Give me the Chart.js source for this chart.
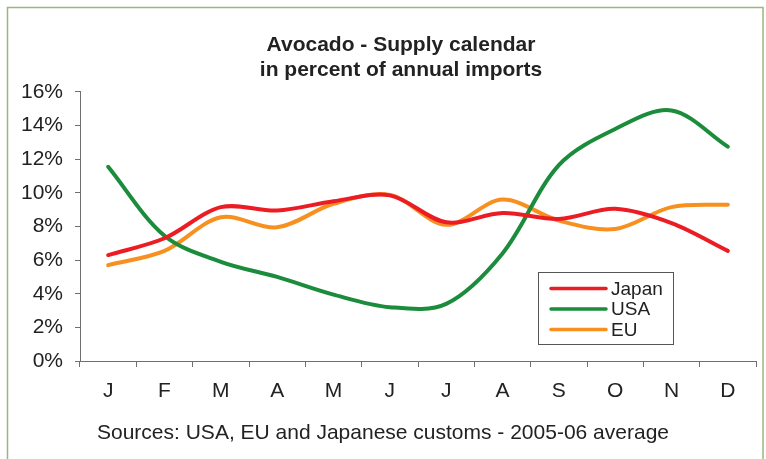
<!DOCTYPE html>
<html>
<head>
<meta charset="utf-8">
<script src="https://cdn.jsdelivr.net/npm/chart.js@4"></script>
<style>
    html, body { margin: 0; padding: 0; background: #ffffff; }
    canvas { display: block; }
</style>
</head>
<body>
<canvas id="supplyChart" width="766" height="459"></canvas>
<script>
// Data (percent of annual imports per month)
const months = ['J', 'F', 'M', 'A', 'M', 'J', 'J', 'A', 'S', 'O', 'N', 'D'];
const japan = [6.3, 7.3, 9.15, 8.95, 9.5, 9.85, 8.25, 8.8, 8.45, 9.05, 8.2, 6.55];
const usa = [11.55, 7.45, 5.9, 5.0, 3.95, 3.2, 3.4, 6.4, 11.65, 13.8, 14.9, 12.75];
const eu = [5.7, 6.55, 8.55, 7.95, 9.35, 9.88, 8.1, 9.6, 8.35, 7.85, 9.15, 9.3];
const yTicks = [0, 2, 4, 6, 8, 10, 12, 14, 16];
const sourceText = 'Sources: USA, EU and Japanese customs - 2005-06 average';

const FONT = "'Liberation Sans', Arial, sans-serif";
const axisColor = '#6f6f6f';

// Green frame round the picture, the source line and the legend box
const extras = {
    id: 'extras',
    afterLayout(chart) {
        // title sits a bit right of the canvas centre in the reference
        chart.titleBlock.left = 36;
        chart.titleBlock.right = 766;
    },
    beforeDraw(chart) {
        const ctx = chart.ctx;
        ctx.save();
        ctx.fillStyle = '#ffffff';
        ctx.fillRect(0, 0, chart.width, chart.height);
        ctx.strokeStyle = '#9db57c';
        ctx.lineWidth = 1.5;
        ctx.strokeRect(7.5, 7.5, 755.5, 480);
        ctx.restore();
    },
    afterDraw(chart) {
        const ctx = chart.ctx;
        ctx.save();
        // source line
        ctx.fillStyle = '#222222';
        ctx.font = '21px ' + FONT;
        ctx.textAlign = 'left';
        ctx.textBaseline = 'middle';
        ctx.fillText(sourceText, 97, 433);

        // legend
        ctx.strokeStyle = '#555555';
        ctx.lineWidth = 1;
        ctx.strokeRect(538.5, 272.5, 135, 72);
        ctx.font = '19px ' + FONT;
        chart.data.datasets.forEach((ds, i) => {
            const y = 288.5 + i * 20.5;
            ctx.strokeStyle = ds.borderColor;
            ctx.lineWidth = 3.5;
            ctx.lineCap = 'round';
            ctx.beginPath();
            ctx.moveTo(551, y);
            ctx.lineTo(606, y);
            ctx.stroke();
            ctx.fillStyle = '#222222';
            ctx.fillText(ds.label, 611, y + 1);
        });
        ctx.restore();
    }
};

const ctx = document.getElementById('supplyChart').getContext('2d');
const supplyChart = new Chart(ctx, {
    type: 'line',
    data: {
        labels: months,
        datasets: [{
            label: 'Japan',
            data: japan,
            borderColor: '#ec1c24'
        }, {
            label: 'USA',
            data: usa,
            borderColor: '#1a8c3c'
        }, {
            label: 'EU',
            data: eu,
            borderColor: '#f7901e'
        }]
    },
    options: {
        responsive: false,
        animation: false,
        devicePixelRatio: 1,
        layout: {
            padding: { left: 12, right: 10, top: 0, bottom: 0 }
        },
        elements: {
            line: { borderWidth: 4, tension: 0.33, fill: false, borderCapStyle: 'round' },
            point: { radius: 0, hoverRadius: 0 }
        },
        plugins: {
            legend: { display: false },
            tooltip: { enabled: false },
            title: {
                display: true,
                text: ['Avocado - Supply calendar', 'in percent of annual imports'],
                color: '#222222',
                font: { family: FONT, size: 21, weight: 'bold', lineHeight: 1.19 },
                padding: { top: 33, bottom: 9 }
            }
        },
        scales: {
            x: {
                offset: true,
                grid: {
                    offset: true,
                    drawOnChartArea: false,
                    color: axisColor,
                    tickLength: 6
                },
                border: { display: true, color: axisColor, width: 1 },
                ticks: {
                    color: '#222222',
                    padding: 12,
                    maxRotation: 0,
                    autoSkip: false,
                    font: { family: FONT, size: 21 }
                },
                afterFit(scale) { scale.height = 98; }
            },
            y: {
                min: 0,
                max: 16,
                afterBuildTicks(scale) {
                    scale.ticks = yTicks.map(v => ({ value: v }));
                },
                grid: {
                    drawOnChartArea: false,
                    color: axisColor,
                    tickLength: 5
                },
                border: { display: true, color: axisColor, width: 1 },
                ticks: {
                    color: '#222222',
                    padding: 12,
                    font: { family: FONT, size: 21 },
                    callback: v => v + '%'
                },
                afterFit(scale) { scale.width = 68; }
            }
        }
    },
    plugins: [extras]
});
</script>
</body>
</html>
